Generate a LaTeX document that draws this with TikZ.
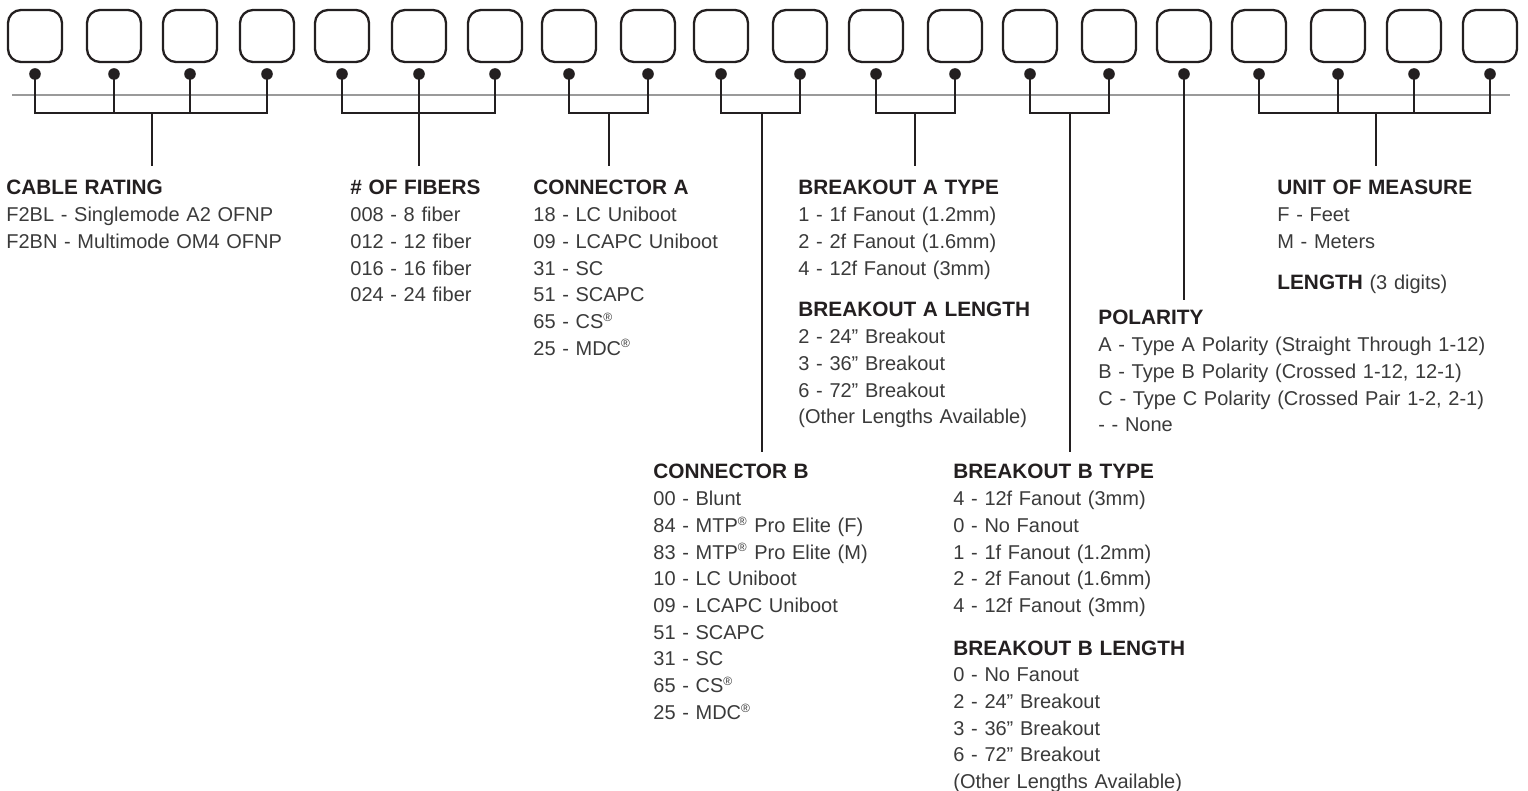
\documentclass[tikz,border=0pt]{standalone}
\usepackage{fontspec}
\setmainfont{Liberation Sans}
\definecolor{headc}{HTML}{231F20}
\definecolor{bodyc}{HTML}{3A3A3A}
\definecolor{wirec}{HTML}{231F20}
\definecolor{rulec}{HTML}{9A9A9A}
\begin{document}
\begin{tikzpicture}[x=0.5pt,y=-0.5pt,
  codebox/.style={draw=wirec,line width=1.15pt,rounded corners=6.5pt,minimum width=27pt,minimum height=26pt,inner sep=0pt},
  pin/.style={circle,fill=wirec,minimum size=5.8pt,inner sep=0pt},
  wire/.style={draw=wirec,line width=1pt,line join=miter},
  txt/.style={anchor=base west,inner sep=0pt,align=left,text width=260pt,text=bodyc,font=\fontsize{10pt}{13.35pt}\selectfont}]
\useasboundingbox (0,0) rectangle (1528,791);
\newcommand{\hdr}[1]{{\color{headc}\fontsize{10.4pt}{13.35pt}\selectfont\bfseries #1}}
\newcommand{\regm}{\textsuperscript{\fontsize{6pt}{6pt}\selectfont ®}}
% grey rule
\coordinate (rl) at (12,95);
\coordinate (rr) at (1510,95);
\draw[rulec,line width=0.75pt] (rl) -- (rr);
% boxes and pins
\foreach \i/\x in {1/35,2/114,3/190,4/267,5/342,6/419,7/495,8/569,9/648,10/721,11/800,12/876,13/955,14/1030,15/1109,16/1184,17/1259,18/1338,19/1414,20/1490}{
  \node[codebox] (b\i) at (\x,36) {};
  \node[pin] (d\i) at (\x,74) {};
}
% bracket level
\coordinate (lev) at (0,113);
% group 1
\coordinate (s1) at (152,166);
\draw[wire] (d1.center) -- (d1 |- lev) -- (d4 |- lev) -- (d4.center);
\draw[wire] (d2.center) -- (d2 |- lev);
\draw[wire] (d3.center) -- (d3 |- lev);
\draw[wire] (s1 |- lev) -- (s1);
% group 2
\coordinate (s2) at (419,166);
\draw[wire] (d5.center) -- (d5 |- lev) -- (d7 |- lev) -- (d7.center);
\draw[wire] (d6.center) -- (s2);
% group 3
\coordinate (s3) at (609,166);
\draw[wire] (d8.center) -- (d8 |- lev) -- (d9 |- lev) -- (d9.center);
\draw[wire] (s3 |- lev) -- (s3);
% group 4
\coordinate (s4) at (762,452);
\draw[wire] (d10.center) -- (d10 |- lev) -- (d11 |- lev) -- (d11.center);
\draw[wire] (s4 |- lev) -- (s4);
% group 5
\coordinate (s5) at (915,166);
\draw[wire] (d12.center) -- (d12 |- lev) -- (d13 |- lev) -- (d13.center);
\draw[wire] (s5 |- lev) -- (s5);
% group 6
\coordinate (s6) at (1070,452);
\draw[wire] (d14.center) -- (d14 |- lev) -- (d15 |- lev) -- (d15.center);
\draw[wire] (s6 |- lev) -- (s6);
% group 7
\coordinate (s7) at (1184,300);
\draw[wire] (d16.center) -- (s7);
% group 8
\coordinate (s8) at (1376,166);
\draw[wire] (d17.center) -- (d17 |- lev) -- (d20 |- lev) -- (d20.center);
\draw[wire] (d18.center) -- (d18 |- lev);
\draw[wire] (d19.center) -- (d19 |- lev);
\draw[wire] (s8 |- lev) -- (s8);
% texts
\node[txt] (cable) at (6,195) {\hdr{CABLE RATING}\\F2BL - Singlemode A2 OFNP\\F2BN - Multimode OM4 OFNP};
\node[txt] (fibers) at (350,195) {\hdr{\# OF FIBERS}\\008 - 8 fiber\\012 - 12 fiber\\016 - 16 fiber\\024 - 24 fiber};
\node[txt] (conna) at (533,195) {\hdr{CONNECTOR A}\\18 - LC Uniboot\\09 - LCAPC Uniboot\\31 - SC\\51 - SCAPC\\65 - CS\regm\\25 - MDC\regm};
\node[txt] (bat) at (798,195) {\hdr{BREAKOUT A TYPE}\\1 - 1f Fanout (1.2mm)\\2 - 2f Fanout (1.6mm)\\4 - 12f Fanout (3mm)};
\node[txt] (bal) at (798,317) {\hdr{BREAKOUT A LENGTH}\\2 - 24” Breakout\\3 - 36” Breakout\\6 - 72” Breakout\\(Other Lengths Available)};
\node[txt] (unit) at (1277,195) {\hdr{UNIT OF MEASURE}\\F - Feet\\M - Meters};
\node[txt] (len) at (1277,290) {\hdr{LENGTH} (3 digits)};
\node[txt] (pol) at (1098,325) {\hdr{POLARITY}\\A - Type A Polarity (Straight Through 1-12)\\B - Type B Polarity (Crossed 1-12, 12-1)\\C - Type C Polarity (Crossed Pair 1-2, 2-1)\\- - None};
\node[txt] (connb) at (653,479) {\hdr{CONNECTOR B}\\00 - Blunt\\84 - MTP\regm{} Pro Elite (F)\\83 - MTP\regm{} Pro Elite (M)\\10 - LC Uniboot\\09 - LCAPC Uniboot\\51 - SCAPC\\31 - SC\\65 - CS\regm\\25 - MDC\regm};
\node[txt] (bbt) at (953,479) {\hdr{BREAKOUT B TYPE}\\4 - 12f Fanout (3mm)\\0 - No Fanout\\1 - 1f Fanout (1.2mm)\\2 - 2f Fanout (1.6mm)\\4 - 12f Fanout (3mm)};
\node[txt] (bbl) at (953,655) {\hdr{BREAKOUT B LENGTH}\\0 - No Fanout\\2 - 24” Breakout\\3 - 36” Breakout\\6 - 72” Breakout\\(Other Lengths Available)};
\end{tikzpicture}
\end{document}
